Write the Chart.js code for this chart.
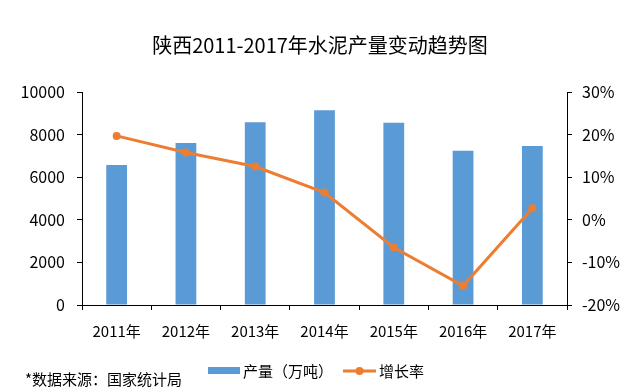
<!DOCTYPE html>
<html>
<head>
<meta charset="utf-8">
<script src="https://cdn.jsdelivr.net/npm/chart.js@4"></script>
<style>
  html, body { margin: 0; padding: 0; background: #fff; }
  #wrap { width: 640px; height: 391px; }
</style>
</head>
<body>
<div id="wrap"><canvas id="chart" width="640" height="391"></canvas></div>
<script>
// Chart data
var YEARS = ['2011年', '2012年', '2013年', '2014年', '2015年', '2016年', '2017年'];
var OUTPUT = [6570, 7600, 8580, 9140, 8560, 7245, 7465];   // 产量（万吨）
var GROWTH = [19.7, 15.8, 12.5, 6.4, -6.5, -15.5, 2.7];    // 增长率 %

var TITLE = '陕西2011-2017年水泥产量变动趋势图';
var SOURCE = '*数据来源：国家统计局';

var BLUE = '#5B9BD5';
var ORANGE = '#ED7D31';
var FONT = '"Noto Sans CJK SC", "Noto Sans", sans-serif';

// title, source note and legend are drawn by hand so they sit where the original has them
var decorations = {
  id: 'decorations',
  afterDraw: function (chart) {
    var ctx = chart.ctx;
    var sets = chart.data.datasets;
    ctx.save();
    ctx.fillStyle = '#000';
    ctx.textBaseline = 'middle';

    ctx.font = '20px ' + FONT;
    ctx.textAlign = 'center';
    ctx.fillText(TITLE, 320, 45);

    ctx.font = '15px ' + FONT;
    ctx.textAlign = 'left';
    ctx.fillText(SOURCE, 25, 379);

    // legend: bar series
    ctx.fillStyle = sets[0].backgroundColor;
    ctx.fillRect(208, 367, 32, 7);
    ctx.fillStyle = '#000';
    ctx.fillText(sets[0].label, 243, 371);

    // legend: line series
    ctx.strokeStyle = sets[1].borderColor;
    ctx.lineWidth = 3;
    ctx.beginPath();
    ctx.moveTo(343, 371);
    ctx.lineTo(376, 371);
    ctx.stroke();
    ctx.fillStyle = sets[1].borderColor;
    ctx.beginPath();
    ctx.arc(359.5, 371, 4, 0, Math.PI * 2);
    ctx.fill();
    ctx.fillStyle = '#000';
    ctx.fillText(sets[1].label, 379, 371);
    ctx.restore();
  }
};

var axisGrid = {
  display: true,
  drawOnChartArea: false,
  drawTicks: true,
  tickLength: 5,
  tickColor: '#000'
};

new Chart(document.getElementById('chart'), {
  type: 'bar',
  data: {
    labels: YEARS,
    datasets: [
      {
        type: 'bar',
        label: '产量（万吨）',
        data: OUTPUT,
        backgroundColor: BLUE,
        barPercentage: 0.3,
        categoryPercentage: 1,
        yAxisID: 'y',
        order: 2
      },
      {
        type: 'line',
        label: '增长率',
        data: GROWTH,
        borderColor: ORANGE,
        backgroundColor: ORANGE,
        borderWidth: 3,
        pointRadius: 4,
        pointBackgroundColor: ORANGE,
        pointBorderWidth: 0,
        tension: 0,
        yAxisID: 'y1',
        order: 1
      }
    ]
  },
  options: {
    responsive: false,
    animation: false,
    layout: { padding: { top: 92, right: 0, bottom: 0, left: 0 } },
    plugins: {
      legend: { display: false },
      title: { display: false },
      tooltip: { enabled: false }
    },
    scales: {
      x: {
        grid: Object.assign({ offset: true }, axisGrid),
        border: { display: true, color: '#000', width: 1 },
        ticks: { color: '#000', font: { family: FONT, size: 15 }, padding: 12, maxRotation: 0 },
        afterFit: function (s) { s.height = 86; }
      },
      y: {
        position: 'left',
        min: 0,
        max: 10000,
        grid: axisGrid,
        border: { display: true, color: '#000', width: 1 },
        ticks: {
          stepSize: 2000,
          color: '#000',
          font: { family: FONT, size: 16 },
          padding: 12,
          callback: function (v) { return String(v); }
        },
        afterFit: function (s) { s.width = 82; }
      },
      y1: {
        position: 'right',
        min: -20,
        max: 30,
        grid: axisGrid,
        border: { display: true, color: '#000', width: 1 },
        ticks: {
          stepSize: 10,
          color: '#000',
          font: { family: FONT, size: 16 },
          padding: 10,
          callback: function (v) { return v + '%'; }
        },
        afterFit: function (s) { s.width = 73; }
      }
    }
  },
  plugins: [decorations]
});
</script>
</body>
</html>
